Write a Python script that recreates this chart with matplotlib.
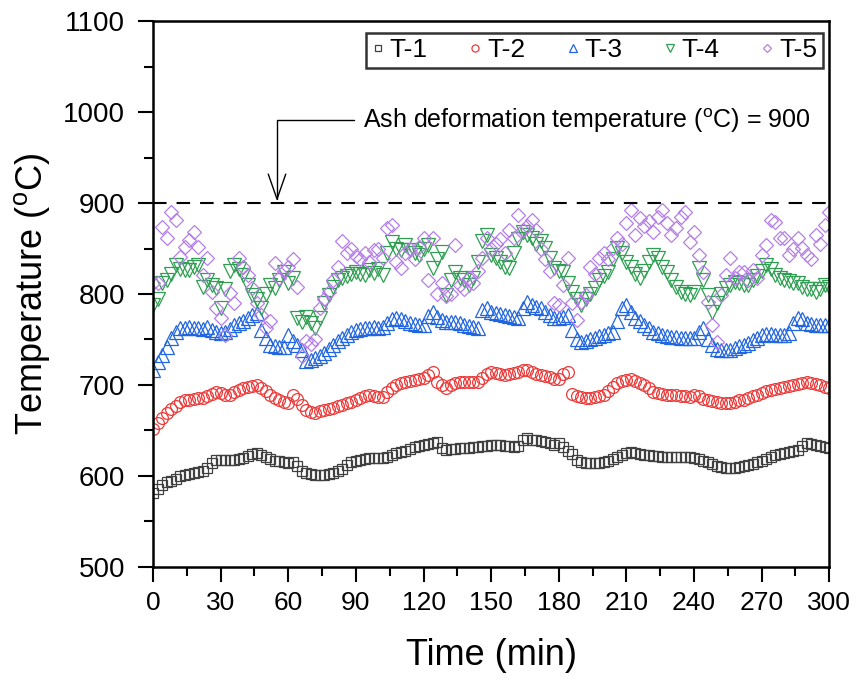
import numpy as np
import matplotlib
matplotlib.use('Agg')
import matplotlib.pyplot as plt
from matplotlib import font_manager
from matplotlib.ticker import MultipleLocator

plt.rcParams['font.family'] = ['Liberation Sans', 'DejaVu Sans']
plt.rcParams['mathtext.fontset'] = 'custom'
plt.rcParams['mathtext.rm'] = 'Liberation Sans'

# narrow font for the x tick labels, if there is one
try:
    font_manager.findfont('Liberation Sans Narrow', fallback_to_default=False)
    narrow = 'Liberation Sans Narrow'
except Exception:
    narrow = 'Liberation Sans'

# time axis, one reading every 2 min
time = np.arange(0, 301, 2)

t1 = [581, 586, 590, 593, 595, 597, 600, 601, 602, 603,
      604, 606, 609, 614, 618, 618, 618, 618, 618, 619,
      620, 622, 624, 625, 623, 621, 619, 617, 616, 615,
      614, 615, 611, 606, 603, 602, 601, 601, 601, 602,
      603, 605, 608, 612, 615, 617, 618, 619, 620, 620,
      620, 620, 621, 623, 625, 626, 628, 630, 632, 633,
      634, 635, 636, 637, 631, 629, 630, 630, 631, 631,
      631, 632, 632, 633, 633, 634, 634, 634, 633, 633,
      632, 633, 640, 642, 640, 639, 638, 637, 636, 634,
      636, 632, 628, 624, 618, 615, 614, 614, 614, 614,
      615, 617, 619, 621, 623, 625, 626, 625, 624, 623,
      623, 622, 622, 621, 621, 621, 621, 621, 621, 621,
      620, 619, 617, 615, 613, 611, 610, 609, 609, 609,
      610, 611, 612, 613, 615, 617, 619, 621, 623, 624,
      625, 626, 627, 629, 633, 636, 635, 634, 633, 632, 631]

t2 = [652, 658, 664, 669, 674, 677, 681, 683, 684, 685,
      686, 686, 688, 690, 692, 691, 689, 689, 692, 695,
      697, 698, 699, 700, 697, 693, 689, 686, 683, 681,
      680, 689, 685, 678, 673, 670, 669, 671, 672, 674,
      675, 677, 678, 680, 681, 683, 686, 688, 689, 688,
      687, 687, 692, 697, 700, 702, 703, 704, 705, 707,
      708, 711, 714, 703, 700, 697, 700, 702, 703, 703,
      703, 703, 703, 708, 712, 714, 713, 712, 711, 712,
      713, 714, 716, 716, 714, 712, 711, 710, 709, 707,
      707, 712, 714, 690, 688, 687, 686, 686, 687, 688,
      689, 693, 698, 702, 704, 706, 707, 704, 702, 700,
      697, 692, 691, 690, 689, 689, 689, 688, 688, 687,
      689, 688, 685, 683, 682, 681, 680, 680, 680, 681,
      683, 684, 686, 688, 689, 691, 693, 695, 696, 697,
      698, 699, 700, 701, 702, 703, 702, 701, 700, 698, 697]

t3 = [716, 725, 733, 742, 752, 758, 763, 763, 764, 763,
      763, 762, 764, 760, 758, 757, 758, 762, 766, 768,
      770, 774, 777, 779, 760, 752, 744, 743, 742, 742,
      755, 748, 744, 738, 726, 727, 730, 732, 735, 740,
      744, 748, 752, 755, 758, 760, 762, 763, 763, 764,
      763, 764, 768, 772, 774, 772, 770, 768, 767, 766,
      766, 776, 780, 775, 771, 769, 769, 769, 768, 766,
      765, 764, 763, 782, 785, 780, 779, 778, 777, 776,
      775, 774, 785, 791, 788, 786, 785, 780, 777, 774,
      774, 775, 777, 760, 750, 747, 748, 750, 752, 754,
      755, 757, 758, 770, 785, 788, 780, 774, 770, 766,
      763, 758, 757, 755, 754, 753, 753, 752, 752, 752,
      752, 758, 763, 750, 744, 740, 738, 738, 739, 741,
      743, 744, 746, 749, 752, 755, 756, 756, 755, 755,
      755, 757, 768, 774, 772, 768, 767, 766, 766, 766, 766]

t4 = [788, 795, 812, 815, 822, 832, 828, 826, 826, 830,
      832, 808, 815, 810, 807, 785, 805, 825, 832, 828,
      821, 810, 799, 795, 785, 800, 810, 807, 815, 824,
      812, 818, 774, 769, 775, 768, 763, 774, 790, 799,
      808, 815, 818, 820, 822, 824, 822, 821, 826, 823,
      828, 821, 845, 857, 850, 848, 854, 848, 845, 843,
      850, 854, 829, 838, 846, 799, 815, 824, 818, 815,
      810, 818, 835, 858, 865, 843, 840, 835, 830, 829,
      845, 860, 868, 865, 862, 855, 858, 851, 840, 829,
      825, 824, 812, 802, 795, 788, 795, 800, 807, 815,
      820, 824, 838, 851, 845, 835, 830, 822, 818, 825,
      835, 843, 840, 830, 824, 815, 808, 802, 800, 799,
      802, 829, 815, 799, 780, 790, 800, 807, 810, 813,
      812, 810, 810, 815, 820, 825, 832, 828, 821, 818,
      815, 814, 812, 812, 808, 806, 805, 802, 806, 810, 808]

t5 = [812, 812, 874, 862, 890, 881, 841, 852, 859, 868,
      852, 821, 840, 802, 785, 774, 755, 801, 790, 840,
      830, 821, 807, 790, 777, 763, 770, 834, 818, 825,
      830, 838, 808, 732, 748, 745, 750, 785, 795, 802,
      815, 830, 858, 845, 850, 842, 838, 845, 835, 848,
      850, 840, 872, 876, 835, 829, 845, 850, 838, 852,
      862, 815, 862, 800, 812, 798, 800, 854, 810, 805,
      818, 812, 825, 840, 862, 850, 855, 860, 845, 870,
      862, 887, 870, 875, 881, 870, 850, 838, 825, 790,
      788, 810, 840, 790, 771, 791, 799, 830, 822, 840,
      845, 838, 851, 862, 855, 878, 892, 865, 883, 875,
      880, 868, 885, 892, 878, 865, 872, 885, 890, 857,
      868, 843, 824, 791, 766, 747, 799, 821, 840, 818,
      824, 824, 815, 826, 818, 843, 854, 881, 879, 862,
      862, 843, 850, 862, 851, 843, 838, 865, 855, 876, 890]

labels = ['T-1', 'T-2', 'T-3', 'T-4', 'T-5']
series = [t1, t2, t3, t4, t5]
markers = ['s', 'o', '^', 'v', 'D']
colors = ['#404040', '#ec3b3b', '#2166e0', '#2f9e52', '#b57fe6']
msizes = [7.5, 8.5, 9.5, 9.5, 6.8]

fig = plt.figure(figsize=(8.67, 6.79), dpi=100, facecolor='white')
ax = fig.add_axes([0.1765, 0.165, 0.78, 0.804])

for y, lab, m, c, ms in zip(series, labels, markers, colors, msizes):
    ax.plot(time, y, linestyle='none', marker=m, markersize=ms,
            markerfacecolor='none', markeredgecolor=c, markeredgewidth=0.9,
            label=lab)

ax.axhline(900, color='black', linestyle=(0, (6.5, 4.8)), linewidth=1.5)

ax.annotate('Ash deformation temperature ($^{\\rm o}$C) = 900',
            xy=(55, 902), xytext=(93, 991), fontsize=18,
            va='center', ha='left',
            arrowprops=dict(arrowstyle='->,head_length=1.0,head_width=0.35',
                            connectionstyle='angle,angleA=0,angleB=90,rad=0',
                            color='black', linewidth=1.0,
                            shrinkA=4, shrinkB=0))

ax.set_xlim(0, 300)
ax.set_ylim(500, 1100)
ax.xaxis.set_major_locator(MultipleLocator(30))
ax.xaxis.set_minor_locator(MultipleLocator(15))
ax.yaxis.set_major_locator(MultipleLocator(100))
ax.yaxis.set_minor_locator(MultipleLocator(50))

ax.tick_params(axis='both', which='major', direction='out', length=11, width=1.5)
ax.tick_params(axis='both', which='minor', direction='out', length=6.5, width=1.5)
ax.tick_params(axis='y', labelsize=20, pad=9)
ax.tick_params(axis='x', labelsize=19, pad=6)
for lbl in ax.get_xticklabels():
    lbl.set_fontfamily(narrow)
for sp in ax.spines.values():
    sp.set_linewidth(1.8)

ax.set_xlabel('Time (min)', fontsize=26, labelpad=17)
ax.set_ylabel('Temperature ($^{\\rm o}$C)', fontsize=26, labelpad=8)

leg = ax.legend(loc='upper right', bbox_to_anchor=(0.99, 0.978), ncol=5,
                fontsize=19, markerscale=0.6, handlelength=0.5,
                handletextpad=0.2, columnspacing=1.55, borderpad=0.2,
                borderaxespad=0, frameon=True, fancybox=False,
                edgecolor='black')
leg.get_frame().set_linewidth(1.8)

fig.savefig('out.png', dpi=100, facecolor='white')
